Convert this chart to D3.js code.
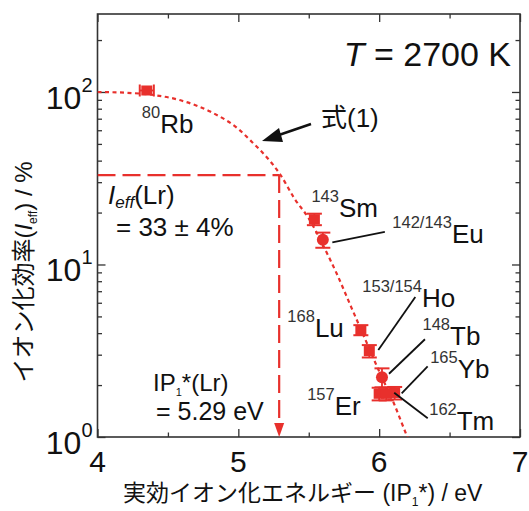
<!DOCTYPE html>
<html><head><meta charset="utf-8">
<script src="https://cdn.jsdelivr.net/npm/d3@7"></script>
<style>body{margin:0;background:#fff}svg{display:block}text{font-family:"Liberation Sans",Arial,"Noto Sans CJK JP",sans-serif}</style>
</head><body>
<svg id="chart" width="529" height="511"></svg>
<script>
// ---- data ----
const massNumbers = ["80","143","142/143","168","153/154","148","157","165","162"];
const elements    = ["Rb","Sm","Eu","Lu","Ho","Tb","Er","Yb","Tm"];
const ipValues    = [4.35, 5.54, 5.60, 5.87, 5.93, 6.02, 6.00, 6.11, 6.05];
const ieffValues  = [102, 18.3, 13.9, 4.17, 3.15, 2.22, 1.78, 1.80, 1.78];
const ieffErr     = [0, 1.4, 1.4, 0.28, 0.26, 0.28, 0.15, 0.15, 0.15];
const ipErr       = [0.05, 0, 0, 0, 0, 0, 0, 0, 0];
const markerShape = ["square","square","circle","square","square","circle","square","square","square"];
const curveIP   = [4.0, 4.2, 4.4, 4.6, 4.8, 5.0, 5.1, 5.2, 5.3, 5.4, 5.5, 5.6, 5.7, 5.8, 5.9, 6.0, 6.1, 6.2, 6.3];
const curveIeff = [100, 99, 96, 89, 77, 61, 51, 42, 33, 24, 18.5, 13, 8.8, 5.7, 3.7, 2.4, 1.6, 1.0, 0.65];
const lrIP = 5.29, lrIeff = 33;
const xTicks = [4, 5, 6, 7];
const xMinorTicks = [4.5, 5.5, 6.5];
const yTicks = [1, 10, 100];
const yTickExp = ["0", "1", "2"];
const yMinorTicks = [2,3,4,5,6,7,8,9,20,30,40,50,60,70,80,90,200];

// ---- layout ----
const L = 97.5, R = 520, T = 14, B = 437;
const red = "#e8302c", axisColor = "#333";
const svg = d3.select("#chart");
const x = d3.scaleLinear().domain([4, 7]).range([L, R]);
const y = d3.scaleLog().domain([1, Math.pow(10, 2.452)]).range([B, T]);

svg.append("clipPath").attr("id","clip").append("rect")
  .attr("x", L).attr("y", T).attr("width", R - L).attr("height", B - T);

// axes (inward ticks on all four sides)
const major = 8, minor = 4.5;
svg.append("g").attr("transform", `translate(0,${B})`)
  .call(d3.axisBottom(x).tickValues(xTicks).tickSizeInner(-major).tickSizeOuter(0).tickFormat(""));
svg.append("g").attr("transform", `translate(0,${B})`)
  .call(d3.axisBottom(x).tickValues(xMinorTicks).tickSizeInner(-minor).tickSizeOuter(0).tickFormat(""));
svg.append("g").attr("transform", `translate(0,${T})`)
  .call(d3.axisTop(x).tickValues(xTicks).tickSizeInner(-major).tickSizeOuter(0).tickFormat(""));
svg.append("g").attr("transform", `translate(0,${T})`)
  .call(d3.axisTop(x).tickValues(xMinorTicks).tickSizeInner(-minor).tickSizeOuter(0).tickFormat(""));
svg.append("g").attr("transform", `translate(${L},0)`)
  .call(d3.axisLeft(y).tickValues(yTicks).tickSizeInner(-major).tickSizeOuter(0).tickFormat(""));
svg.append("g").attr("transform", `translate(${L},0)`)
  .call(d3.axisLeft(y).tickValues(yMinorTicks).tickSizeInner(-minor).tickSizeOuter(0).tickFormat(""));
svg.append("g").attr("transform", `translate(${R},0)`)
  .call(d3.axisRight(y).tickValues(yTicks).tickSizeInner(-major).tickSizeOuter(0).tickFormat(""));
svg.append("g").attr("transform", `translate(${R},0)`)
  .call(d3.axisRight(y).tickValues(yMinorTicks).tickSizeInner(-minor).tickSizeOuter(0).tickFormat(""));
svg.selectAll(".domain").remove();
svg.selectAll(".tick line").attr("stroke", axisColor).attr("stroke-width", 1.3);
svg.append("rect").attr("x", L).attr("y", T).attr("width", R - L).attr("height", B - T)
  .attr("fill", "none").attr("stroke", axisColor).attr("stroke-width", 1.6);

// tick labels
svg.append("g").selectAll("text").data(xTicks).join("text")
  .attr("x", d => x(d)).attr("y", B + 35).attr("text-anchor", "middle")
  .attr("font-size", 30).attr("fill", "#111").text(d => d);
const yl = svg.append("g").selectAll("text").data(yTicks).join("text")
  .attr("x", L - 5).attr("y", d => y(d) + 17).attr("text-anchor", "end")
  .attr("font-size", 32).attr("fill", "#111");
yl.append("tspan").text("10");
yl.append("tspan").attr("font-size", 20).attr("dy", -17).text((d, i) => yTickExp[i]);

// axis titles
const xt = svg.append("text").attr("x", (L + R) / 2 - 6).attr("y", 501).attr("text-anchor", "middle")
  .attr("font-size", 23).attr("fill", "#111");
xt.append("tspan").text("実効イオン化エネルギー (IP");
xt.append("tspan").attr("font-size", 12).attr("dy", 5).text("1");
xt.append("tspan").attr("dy", -5).text("*) / eV");

const yt = svg.append("text").attr("transform", "translate(32,272) rotate(-90)").attr("text-anchor", "middle")
  .attr("font-size", 24).attr("fill", "#111");
yt.append("tspan").text("イオン化効率(");
yt.append("tspan").attr("font-style", "italic").text("I");
yt.append("tspan").attr("font-size", 12).attr("dy", 5).text("eff");
yt.append("tspan").attr("dy", -5).text(") / %");

// model curve (Eq. 1)
const plot = svg.append("g").attr("clip-path", "url(#clip)");
plot.append("path")
  .datum(curveIP.map((v, i) => [v, curveIeff[i]]))
  .attr("d", d3.line().x(d => x(d[0])).y(d => y(d[1])).curve(d3.curveMonotoneX))
  .attr("fill", "none").attr("stroke", red).attr("stroke-width", 2.2).attr("stroke-dasharray", "4,3.5");

// Lr dashed guide lines
plot.append("line").attr("x1", x(4)).attr("x2", x(lrIP)).attr("y1", y(lrIeff)).attr("y2", y(lrIeff))
  .attr("stroke", red).attr("stroke-width", 2.2).attr("stroke-dasharray", "18,7");
plot.append("line").attr("x1", x(lrIP)).attr("x2", x(lrIP)).attr("y1", y(lrIeff)).attr("y2", y(1) - 12)
  .attr("stroke", red).attr("stroke-width", 2.2).attr("stroke-dasharray", "18,7");
svg.append("path")
  .attr("d", `M${x(lrIP) - 5},${y(1) - 14} L${x(lrIP) + 5},${y(1) - 14} L${x(lrIP)},${y(1)} Z`)
  .attr("fill", red);

// data points
const pts = d3.range(ipValues.length);
const g = svg.append("g");
const cap = 7.5;
pts.forEach(i => {
  const cx = x(ipValues[i]), cy = y(ieffValues[i]);
  if (ieffErr[i] > 0) {
    const y1 = y(ieffValues[i] + ieffErr[i]), y2 = y(ieffValues[i] - ieffErr[i]);
    g.append("line").attr("x1", cx).attr("x2", cx).attr("y1", y1).attr("y2", y2).attr("stroke", red).attr("stroke-width", 1.8);
    [y1, y2].forEach(yy => g.append("line").attr("x1", cx - cap).attr("x2", cx + cap).attr("y1", yy).attr("y2", yy)
      .attr("stroke", red).attr("stroke-width", 2));
  }
  if (ipErr[i] > 0) {
    const x1 = x(ipValues[i] - ipErr[i]), x2 = x(ipValues[i] + ipErr[i]);
    g.append("line").attr("x1", x1).attr("x2", x2).attr("y1", cy).attr("y2", cy).attr("stroke", red).attr("stroke-width", 1.8);
    [x1, x2].forEach(xx => g.append("line").attr("x1", xx).attr("x2", xx).attr("y1", cy - 6).attr("y2", cy + 6)
      .attr("stroke", red).attr("stroke-width", 2));
  }
  if (markerShape[i] === "circle") {
    g.append("circle").attr("cx", cx).attr("cy", cy).attr("r", 6).attr("fill", red);
  } else {
    g.append("rect").attr("x", cx - 5.5).attr("y", cy - 5).attr("width", 11).attr("height", 10).attr("fill", red);
  }
});

// isotope labels (offsets relative to each point) and leader lines
const labelLayout = [
  {dx: -5,  dy: 42.5, leader: null},
  {dx: -3,  dy: -2,   leader: null},
  {dx: 69.5,dy: 3.5,  leader: [9.5, 2.5, 62, -8]},
  {dx: -73.5,dy: 6.5, leader: null},
  {dx: -7,  dy: -44.5,leader: [9, -1, 46, -54]},
  {dx: 40.5,dy: -32.5,leader: [7, -3.5, 43, -38]},
  {dx: -72, dy: 21,   leader: null},
  {dx: 35.5,dy: -14.5,leader: [7, 0.5, 33, -26.5]},
  {dx: 43,  dy: 36,   leader: [8, -1, 41.5, 24.5]}
];
pts.forEach(i => {
  const cx = x(ipValues[i]), cy = y(ieffValues[i]);
  const lay = labelLayout[i];
  if (lay.leader) {
    svg.append("line").attr("x1", cx + lay.leader[0]).attr("y1", cy + lay.leader[1])
      .attr("x2", cx + lay.leader[2]).attr("y2", cy + lay.leader[3])
      .attr("stroke", "#111").attr("stroke-width", 1.8);
  }
  const t = svg.append("text").attr("x", cx + lay.dx).attr("y", cy + lay.dy).attr("fill", "#111");
  t.append("tspan").attr("font-size", 16.5).attr("fill", "#333").attr("dy", -15).text(massNumbers[i]);
  t.append("tspan").attr("font-size", 26).attr("dy", 15).text(elements[i]);
});

// annotations
const tl = svg.append("text").attr("x", 511).attr("y", 66).attr("text-anchor", "end").attr("font-size", 34).attr("fill", "#111");
tl.append("tspan").attr("font-style", "italic").text("T");
tl.append("tspan").text(" = 2700 K");

svg.append("text").attr("x", 321).attr("y", 127).attr("font-size", 26).attr("fill", "#111").text("式(1)");
svg.append("line").attr("x1", 311).attr("y1", 124).attr("x2", 276).attr("y2", 136)
  .attr("stroke", "#111").attr("stroke-width", 2.6);
svg.append("path").attr("d", "M262,141 L279,128 L283,142 Z").attr("fill", "#111");

const ie = svg.append("text").attr("x", 108).attr("y", 204).attr("font-size", 26).attr("fill", "#111");
ie.append("tspan").attr("font-style", "italic").text("I");
ie.append("tspan").attr("font-style", "italic").attr("font-size", 17).attr("dy", 4).text("eff");
ie.append("tspan").attr("dy", -4).text("(Lr)");
svg.append("text").attr("x", 116).attr("y", 236).attr("font-size", 26).attr("fill", "#111").text("= 33 ± 4%");

const ipl = svg.append("text").attr("x", 153).attr("y", 391).attr("font-size", 24).attr("fill", "#111");
ipl.append("tspan").text("IP");
ipl.append("tspan").attr("font-size", 11).attr("dy", 5).text("1");
ipl.append("tspan").attr("dy", -5).text("*(Lr)");
svg.append("text").attr("x", 156).attr("y", 420).attr("font-size", 25).attr("fill", "#111").text("= 5.29 eV");
</script>
</body></html>
